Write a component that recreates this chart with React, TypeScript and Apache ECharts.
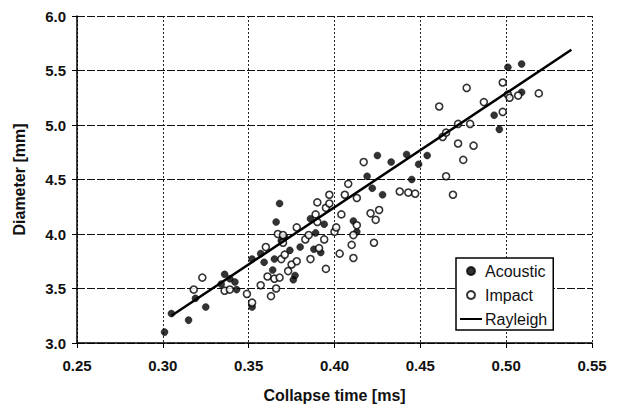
import React, { useEffect, useRef } from "react";
import * as echarts from "echarts";

const xTicks = { min: 0.25, max: 0.55, interval: 0.05 };
const yTicks = { min: 3.0, max: 6.0, interval: 0.5 };

const acoustic: [number, number][] = [
  [0.301, 3.1], [0.305, 3.27], [0.315, 3.21], [0.319, 3.41], [0.325, 3.33],
  [0.334, 3.54], [0.336, 3.63], [0.339, 3.59], [0.342, 3.56], [0.343, 3.49],
  [0.352, 3.33], [0.352, 3.77], [0.357, 3.82], [0.359, 3.74], [0.364, 3.67],
  [0.365, 3.77], [0.366, 4.11], [0.368, 4.28], [0.369, 3.94], [0.371, 3.97],
  [0.374, 3.85], [0.376, 3.58], [0.377, 3.62], [0.38, 3.88], [0.386, 4.14],
  [0.388, 3.86], [0.389, 4.01], [0.392, 3.83], [0.394, 4.09], [0.411, 4.12],
  [0.413, 4.02], [0.419, 4.53], [0.422, 4.42], [0.425, 4.72], [0.428, 4.36],
  [0.433, 4.66], [0.442, 4.73], [0.445, 4.5], [0.449, 4.64], [0.454, 4.72],
  [0.493, 5.09], [0.496, 4.96], [0.501, 5.53], [0.509, 5.56], [0.509, 5.3],
];

const impact: [number, number][] = [
  [0.318, 3.49], [0.323, 3.6], [0.336, 3.48], [0.339, 3.49], [0.349, 3.45],
  [0.352, 3.37], [0.357, 3.53], [0.36, 3.88], [0.361, 3.61], [0.363, 3.43],
  [0.365, 3.59], [0.366, 3.5], [0.368, 3.6], [0.367, 4.0], [0.37, 3.99],
  [0.37, 3.92], [0.369, 3.77], [0.371, 3.81], [0.373, 3.66], [0.375, 3.72],
  [0.378, 3.75], [0.378, 4.06], [0.383, 3.95], [0.385, 3.99], [0.386, 3.77],
  [0.389, 4.18], [0.39, 4.11], [0.39, 4.29], [0.391, 3.87], [0.394, 3.95],
  [0.395, 3.68], [0.395, 4.24], [0.397, 4.28], [0.397, 4.36], [0.4, 4.02],
  [0.401, 4.06], [0.403, 3.82], [0.404, 4.18], [0.406, 4.36], [0.408, 4.46],
  [0.41, 3.9], [0.411, 3.99], [0.411, 3.78], [0.413, 4.08], [0.413, 4.33],
  [0.417, 4.66], [0.421, 4.19], [0.424, 4.13], [0.426, 4.22], [0.423, 3.92],
  [0.438, 4.39], [0.443, 4.38], [0.447, 4.37], [0.461, 5.17], [0.463, 4.89],
  [0.465, 4.93], [0.465, 4.53], [0.469, 4.36], [0.472, 5.01], [0.472, 4.83],
  [0.475, 4.68], [0.477, 5.34], [0.479, 5.01], [0.481, 4.81], [0.487, 5.21],
  [0.498, 5.39], [0.498, 5.12], [0.501, 5.28], [0.502, 5.25], [0.507, 5.27],
  [0.519, 5.29],
];

const rayleigh: [number, number][] = [
  [0.305, 3.25],
  [0.538, 5.69],
];

const seriesNames = ["Acoustic", "Impact", "Rayleigh"];
const xTitle = "Collapse time [ms]";
const yTitle = "Diameter [mm]";

const FONT = "'Liberation Sans', Arial, sans-serif";

export default function App() {
  const ref = useRef<HTMLDivElement>(null);

  useEffect(() => {
    if (!ref.current) return;
    const chart = echarts.init(ref.current, null, { renderer: "svg" });
    chart.setOption({
      animation: false,
      backgroundColor: "#ffffff",
      grid: { left: 77, right: 28, top: 16, bottom: 70, containLabel: false },
      xAxis: {
        type: "value",
        min: xTicks.min,
        max: xTicks.max,
        interval: xTicks.interval,
        name: xTitle,
        nameLocation: "middle",
        nameGap: 44,
        nameTextStyle: { fontFamily: FONT, fontSize: 16, fontWeight: "bold", color: "#111" },
        axisLine: { show: true, onZero: false, lineStyle: { color: "#000", width: 1.5 } },
        axisTick: { show: true, length: 5, lineStyle: { color: "#000", width: 1 } },
        axisLabel: {
          formatter: (v: number) => v.toFixed(2),
          fontFamily: FONT,
          fontSize: 15,
          fontWeight: "bold",
          color: "#111",
          margin: 15,
        },
        splitLine: { show: true, lineStyle: { color: "#222", width: 1, type: [2, 2] } },
      },
      yAxis: {
        type: "value",
        min: yTicks.min,
        max: yTicks.max,
        interval: yTicks.interval,
        name: yTitle,
        nameLocation: "middle",
        nameGap: 50,
        nameTextStyle: { fontFamily: FONT, fontSize: 16, fontWeight: "bold", color: "#111" },
        axisLine: { show: true, onZero: false, lineStyle: { color: "#000", width: 1.5 } },
        axisTick: { show: true, length: 5, lineStyle: { color: "#000", width: 1 } },
        axisLabel: {
          formatter: (v: number) => v.toFixed(1),
          fontFamily: FONT,
          fontSize: 15,
          fontWeight: "bold",
          color: "#111",
          margin: 11,
        },
        splitLine: { show: true, lineStyle: { color: "#111", width: 1.2, type: [8, 2] } },
      },
      legend: {
        data: [
          { name: seriesNames[0] },
          { name: seriesNames[1] },
          { name: seriesNames[2], icon: "path://M0 0H22V2H0Z" },
        ],
        orient: "vertical",
        left: 456,
        top: 258,
        backgroundColor: "#fff",
        borderColor: "#000",
        borderWidth: 1.5,
        borderRadius: 0,
        padding: [5, 6, 3, 4],
        itemWidth: 22,
        itemHeight: 8,
        itemGap: 8,
        textStyle: { fontFamily: FONT, fontSize: 16, color: "#111", lineHeight: 16, padding: [0, 0, 0, -2] },
      },
      series: [
        {
          name: seriesNames[0],
          type: "scatter",
          data: acoustic,
          symbol: "circle",
          symbolSize: 7,
          itemStyle: { color: "#000", borderColor: "#000", borderWidth: 0.5 },
          z: 3,
        },
        {
          name: seriesNames[1],
          type: "scatter",
          data: impact,
          symbol: "circle",
          symbolSize: 7,
          itemStyle: { color: "#fff", borderColor: "#000", borderWidth: 1.6 },
          z: 3,
        },
        {
          name: seriesNames[2],
          type: "line",
          data: rayleigh,
          symbol: "none",
          showSymbol: false,
          lineStyle: { color: "#000", width: 2.5 },
          itemStyle: { color: "#000" },
          z: 4,
        },
      ],
    });
    return () => chart.dispose();
  }, []);

  return (
    <div
      ref={ref}
      style={{ position: "fixed", left: 0, top: 0, width: 620, height: 413, background: "#fff" }}
    />
  );
}
